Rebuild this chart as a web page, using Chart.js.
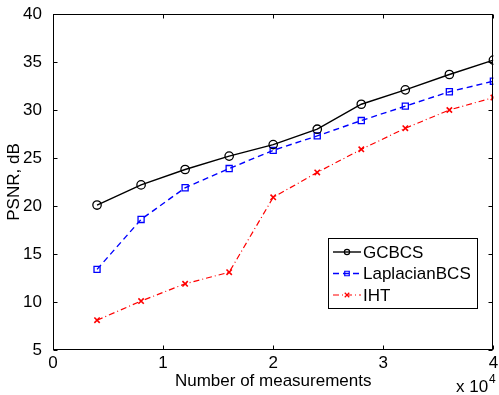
<!DOCTYPE html>
<html><head><meta charset="utf-8">
<script src="https://cdn.jsdelivr.net/npm/chart.js@4.4.1/dist/chart.umd.min.js"></script>
<style>html,body{margin:0;padding:0;background:#fff}#wrap{width:499px;height:395px;position:relative}</style>
</head><body><div id="wrap"><canvas id="c" width="499" height="395"></canvas></div>
<script>
// Number of measurements, in units of 10^4
const measurements = [0.4, 0.8, 1.2, 1.6, 2.0, 2.4, 2.8, 3.2, 3.6, 4.0];
const gcbcs        = [20.1, 22.2, 23.8, 25.2, 26.4, 28.0, 30.6, 32.1, 33.7, 35.2];
const laplacianBCS = [13.4, 18.6, 21.9, 23.9, 25.8, 27.3, 28.9, 30.4, 31.9, 33.0];
const iht          = [8.1, 10.1, 11.9, 13.1, 20.9, 23.5, 25.9, 28.1, 30.0, 31.3];
const seriesNames  = ['GCBCS', 'LaplacianBCS', 'IHT'];
const xTicks = [0, 1, 2, 3, 4];
const yTicks = [5, 10, 15, 20, 25, 30, 35, 40];
const xTitle = 'Number of measurements';
const yTitle = 'PSNR, dB';

const FONT = 'Liberation Sans, Arial, Helvetica, sans-serif';
const pts = arr => measurements.map((x, i) => ({x: x, y: arr[i]}));

function marker(ctx, style, x, y, r) {
  ctx.beginPath();
  if (style === 'circle') {
    ctx.arc(x, y, r, 0, Math.PI * 2);
  } else if (style === 'rect') {
    const s = r * Math.SQRT1_2;
    ctx.rect(x - s, y - s, 2 * s, 2 * s);
  } else if (style === 'crossRot') {
    const s = r * Math.SQRT1_2;
    ctx.moveTo(x - s, y - s); ctx.lineTo(x + s, y + s);
    ctx.moveTo(x - s, y + s); ctx.lineTo(x + s, y - s);
  }
  ctx.stroke();
}

const framePlugin = {
  id: 'frame',
  afterDraw(chart) {
    const ctx = chart.ctx, a = chart.chartArea;
    const xs = chart.scales.x, ys = chart.scales.y;
    ctx.save();
    ctx.strokeStyle = '#000'; ctx.lineWidth = 1; ctx.setLineDash([]);
    const L = Math.round(a.left) + 0.5, R = Math.round(a.right) - 0.5;
    const T = Math.round(a.top) + 0.5, B = Math.round(a.bottom) - 0.5;
    ctx.strokeRect(L, T, R - L, B - T);
    const tl = 4;
    ctx.beginPath();
    xTicks.forEach(v => {
      const px = Math.round(xs.getPixelForValue(v)) + 0.5;
      ctx.moveTo(px, B); ctx.lineTo(px, B - tl);
      ctx.moveTo(px, T); ctx.lineTo(px, T + tl);
    });
    yTicks.forEach(v => {
      const py = Math.round(ys.getPixelForValue(v)) + 0.5;
      ctx.moveTo(L, py); ctx.lineTo(L + tl, py);
      ctx.moveTo(R, py); ctx.lineTo(R - tl, py);
    });
    ctx.stroke();

    // exponent label
    ctx.fillStyle = '#000';
    ctx.textBaseline = 'alphabetic';
    ctx.textAlign = 'left';
    ctx.font = '17px ' + FONT;
    ctx.fillText('x 10', 456, 392);
    ctx.font = '12px ' + FONT;
    ctx.fillText('4', 489, 383);

    // legend
    const lx = 328.5, ly = 238.5, lw = 149, lh = 70;
    ctx.fillStyle = '#fff';
    ctx.fillRect(lx, ly, lw, lh);
    ctx.strokeStyle = '#000'; ctx.lineWidth = 1;
    ctx.strokeRect(lx, ly, lw, lh);
    chart.data.datasets.forEach((ds, i) => {
      const y = 252 + i * 21.5;
      ctx.strokeStyle = ds.borderColor;
      ctx.lineWidth = ds.borderWidth;
      ctx.setLineDash(ds.borderDash || []);
      ctx.beginPath(); ctx.moveTo(333, y); ctx.lineTo(361, y); ctx.stroke();
      ctx.setLineDash([]);
      ctx.lineWidth = 1.2;
      marker(ctx, ds.pointStyle, 347, y, ds.pointStyle === 'circle' ? 2.6 : 3.2);
      ctx.fillStyle = '#000';
      ctx.font = '17px ' + FONT;
      ctx.textBaseline = 'middle';
      ctx.fillText(ds.label, 363, y + 1);
    });
    ctx.restore();
  }
};

new Chart(document.getElementById('c'), {
  type: 'line',
  data: {
    datasets: [
      {label: seriesNames[0], data: pts(gcbcs), borderColor: '#000', borderWidth: 1.4,
       pointStyle: 'circle', pointRadius: 4.2, pointBorderWidth: 1.3, pointBorderColor: '#000',
       pointBackgroundColor: 'rgba(0,0,0,0)', borderDash: []},
      {label: seriesNames[1], data: pts(laplacianBCS), borderColor: '#0000ff', borderWidth: 1.4,
       pointStyle: 'rect', pointRadius: 4.3, pointBorderWidth: 1.3, pointBorderColor: '#0000ff',
       pointBackgroundColor: 'rgba(0,0,0,0)', borderDash: [6, 4]},
      {label: seriesNames[2], data: pts(iht), borderColor: '#ff0000', borderWidth: 1.2,
       pointStyle: 'crossRot', pointRadius: 3.8, pointBorderWidth: 1.6, pointBorderColor: '#ff0000',
       pointBackgroundColor: 'rgba(0,0,0,0)', borderDash: [6, 3, 1, 3]}
    ]
  },
  options: {
    responsive: false, animation: false, devicePixelRatio: 1,
    layout: {padding: {left: 0, right: 4, top: 14, bottom: 0}},
    plugins: {legend: {display: false}, tooltip: {enabled: false}},
    elements: {line: {tension: 0}},
    scales: {
      x: {
        type: 'linear', min: 0, max: 4,
        afterBuildTicks: s => { s.ticks = xTicks.map(v => ({value: v})); },
        afterFit: s => { s.height = 45; s.paddingLeft = 0; s.paddingRight = 0; },
        grid: {display: false}, border: {display: false},
        ticks: {color: '#000', font: {family: FONT, size: 17}, padding: -5, maxRotation: 0},
        title: {display: true, text: xTitle, color: '#000', font: {family: FONT, size: 17},
                padding: {top: 0, bottom: 3}}
      },
      y: {
        type: 'linear', min: 5, max: 40,
        afterBuildTicks: s => { s.ticks = yTicks.map(v => ({value: v})); },
        afterFit: s => { s.width = 53; s.paddingTop = 0; s.paddingBottom = 0; },
        grid: {display: false}, border: {display: false},
        ticks: {color: '#000', font: {family: FONT, size: 17}, padding: 3},
        title: {display: true, text: yTitle, color: '#000', font: {family: FONT, size: 17},
                padding: {top: 4, bottom: 0}}
      }
    }
  },
  plugins: [framePlugin]
});
</script></body></html>
